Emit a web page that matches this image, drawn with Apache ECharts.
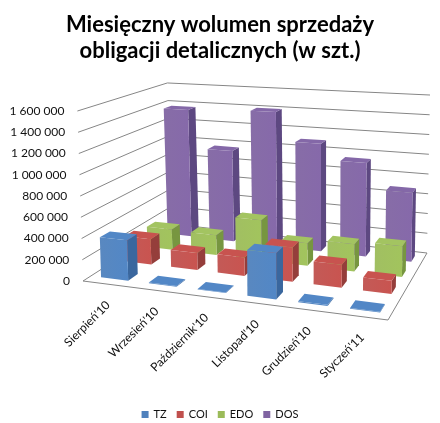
<!DOCTYPE html>
<html>
<head>
<meta charset="utf-8">
<title>Miesięczny wolumen sprzedaży obligacji detalicznych</title>
<script src="https://cdn.jsdelivr.net/npm/echarts@6/dist/echarts.min.js"></script>
<style>
html, body { margin: 0; padding: 0; background: #fff; }
#chart { width: 440px; height: 423px; }
</style>
</head>
<body>
<div id="chart"></div>
<script>
// data
var categories = ["Sierpień'10", "Wrzesień'10", "Październik'10", "Listopad'10", "Grudzień'10", "Styczeń'11"];
var seriesNames = ['TZ', 'COI', 'EDO', 'DOS'];
var tzValues = [380000, 6000, 5000, 410000, 9000, 7000];
var coiValues = [250000, 165000, 175000, 320000, 210000, 117000];
var edoValues = [210000, 200000, 400000, 220000, 260000, 290000];
var dosValues = [1370000, 960000, 1400000, 1100000, 940000, 680000];
var yTicks = [0, 200000, 400000, 600000, 800000, 1000000, 1200000, 1400000, 1600000];

// front, side, top colours of each series
var colors = {
    TZ: ['#4f81bd', '#3a679e', '#5287c6'],
    COI: ['#c0504d', '#953e3b', '#c8534f'],
    EDO: ['#9bbb59', '#779640', '#a3c461'],
    DOS: ['#8064a2', '#5d4881', '#8468a8']
};

// perspective floor: corners measured from the front-left corner of the grid
var floorBR = [344, -28];
var floorBL = [89, -57];
var floorDropRight = 39;
var barWidth = 0.57; // share of a category band
var barDepth = 0.4;  // share of a series row

function fmt(v) {
    return String(v).replace(/\B(?=(\d{3})+(?!\d))/g, ' ');
}

// square (0,0)(1,0)(1,1)(0,1) -> quad
function homography(p0, p1, p2, p3) {
    var sx = p0[0] - p1[0] + p2[0] - p3[0];
    var sy = p0[1] - p1[1] + p2[1] - p3[1];
    var dx1 = p1[0] - p2[0], dx2 = p3[0] - p2[0];
    var dy1 = p1[1] - p2[1], dy2 = p3[1] - p2[1];
    var den = dx1 * dy2 - dx2 * dy1;
    var g = (sx * dy2 - dx2 * sy) / den;
    var h = (dx1 * sy - sx * dy1) / den;
    return {
        a: p1[0] - p0[0] + g * p1[0], b: p3[0] - p0[0] + h * p3[0], c: p0[0],
        d: p1[1] - p0[1] + g * p1[1], e: p3[1] - p0[1] + h * p3[1], f: p0[1],
        g: g, h: h
    };
}

function makeProjector(params, api) {
    var cs = params.coordSys;
    var x0 = cs.x, y0 = cs.y + cs.height;
    var H = homography(
        [x0, y0],
        [x0 + cs.width, y0 + floorDropRight],
        [x0 + floorBR[0], y0 + floorBR[1]],
        [x0 + floorBL[0], y0 + floorBL[1]]
    );
    var base = api.coord([0, 0])[1];
    // s: across categories, t: depth (front -> back), v: value
    return function (s, t, v) {
        var w = H.g * s + H.h * t + 1;
        var fx = (H.a * s + H.b * t + H.c) / w;
        var fy = (H.d * s + H.e * t + H.f) / w;
        var hp = (base - api.coord([0, v])[1]) / w * (1 + 0.064 * s);
        var lean = -0.033 + 0.052 * s;
        return [fx + lean * hp, fy - hp];
    };
}

function renderWalls(params, api) {
    var proj = makeProjector(params, api);
    var cs = params.coordSys;
    var lineStyle = { stroke: '#868686', lineWidth: 1, fill: null };
    var children = [];

    yTicks.forEach(function (v) {
        var a = proj(0, 0, v), b = proj(0, 1, v), c = proj(1, 1, v);
        children.push({ type: 'polyline', shape: { points: [a, b, c] }, style: lineStyle });
        children.push({
            type: 'text', x: a[0] - 13, y: a[1],
            style: { text: fmt(v), align: 'right', verticalAlign: 'middle', fill: '#111', font: '12px Lato' }
        });
    });
    children.push({
        type: 'polyline',
        shape: { points: [proj(0, 0, 0), proj(1, 0, 0), proj(1, 1, 0)] },
        style: lineStyle
    });

    categories.forEach(function (name, i) {
        var s = (api.coord([i, 0])[0] - cs.x) / cs.width;
        var p = proj(s, 0, 0);
        children.push({
            type: 'text', x: p[0] + 1, y: p[1] + 19, rotation: Math.PI / 4,
            style: { text: name, align: 'right', verticalAlign: 'middle', fill: '#111', font: '12px Lato' }
        });
    });
    return { type: 'group', children: children };
}

function barRenderer(row, name) {
    return function (params, api) {
        var proj = makeProjector(params, api);
        var cs = params.coordSys;
        var band = api.size([1, 0])[0];
        var cx = api.coord([api.value(0), 0])[0];
        var s0 = (cx - band * barWidth / 2 - cs.x) / cs.width;
        var s1 = (cx + band * barWidth / 2 - cs.x) / cs.width;
        var t0 = (row + 0.5 - barDepth / 2) / seriesNames.length;
        var t1 = (row + 0.5 + barDepth / 2) / seriesNames.length;
        var v = api.value(1);
        var fb0 = proj(s0, t0, 0), fb1 = proj(s1, t0, 0);
        var ft0 = proj(s0, t0, v), ft1 = proj(s1, t0, v);
        var bb1 = proj(s1, t1, 0), bt0 = proj(s0, t1, v), bt1 = proj(s1, t1, v);
        var c = colors[name];
        return {
            type: 'group',
            children: [
                { type: 'polygon', shape: { points: [fb1, bb1, bt1, ft1] }, style: { fill: c[1] } },
                { type: 'polygon', shape: { points: [ft0, ft1, bt1, bt0] }, style: { fill: c[2] } },
                {
                    type: 'polygon', shape: { points: [fb0, fb1, ft1, ft0] },
                    style: {
                        fill: {
                            type: 'linear', x: 0, y: 0, x2: 1, y2: 0,
                            colorStops: [
                                { offset: 0, color: echarts.color.lift(c[0], 0.06) },
                                { offset: 1, color: echarts.color.lift(c[0], -0.05) }
                            ]
                        }
                    }
                }
            ]
        };
    };
}

var valueLists = [tzValues, coiValues, edoValues, dosValues];

var series = [{
    name: 'walls',
    type: 'custom',
    renderItem: renderWalls,
    data: [[0, 0]],
    silent: true,
    z: 1
}];
seriesNames.forEach(function (name, row) {
    series.push({
        name: name,
        type: 'custom',
        renderItem: barRenderer(row, name),
        itemStyle: { color: colors[name][0] },
        data: valueLists[row].map(function (v, i) { return [i, v]; }),
        encode: { x: 0, y: 1 },
        silent: true,
        z: 10 - row
    });
});

var myChart = echarts.init(document.getElementById('chart'));
var option = {
    animation: false,
    title: {
        text: 'Miesięczny wolumen sprzedaży\nobligacji detalicznych (w szt.)',
        left: 'center',
        top: 7,
        textStyle: { fontFamily: 'Lato', fontWeight: 'bold', fontSize: 22, lineHeight: 26, color: '#000' }
    },
    legend: {
        data: seriesNames,
        left: 'center',
        top: 404,
        icon: 'rect',
        itemWidth: 7,
        itemHeight: 7,
        itemGap: 10,
        textStyle: { fontFamily: 'Lato', fontSize: 11, color: '#111' }
    },
    grid: { left: 83, right: 52, top: 111, bottom: 142 },
    xAxis: { type: 'category', data: categories, show: false },
    yAxis: { type: 'value', min: 0, max: 1600000, interval: 200000, show: false },
    series: series
};
myChart.setOption(option);
</script>
</body>
</html>
